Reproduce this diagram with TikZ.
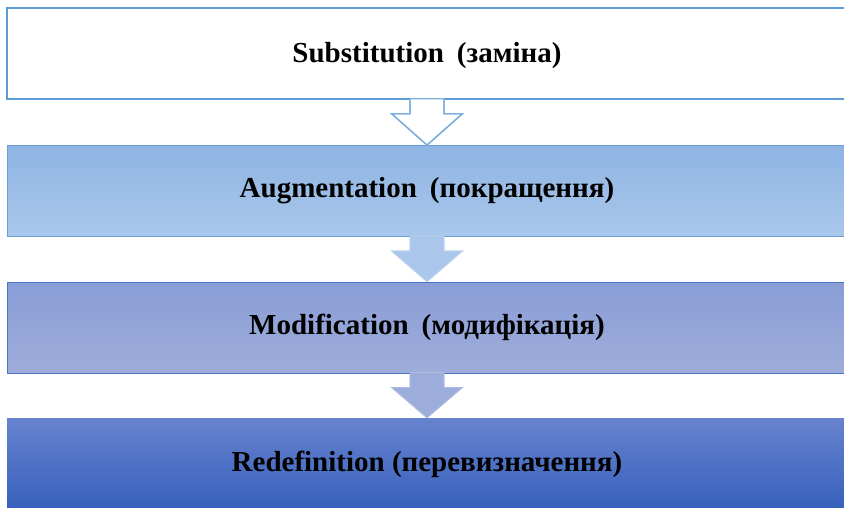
\documentclass[tikz,border=0pt]{standalone}
\usepackage{fontspec}
\setmainfont{Liberation Serif}
\usetikzlibrary{calc}
\definecolor{bordA}{HTML}{5B9BD5}
\definecolor{topB}{HTML}{8EB4E3}
\definecolor{botB}{HTML}{AAC7EB}
\definecolor{bordB}{HTML}{6C9FD8}
\definecolor{topC}{HTML}{889DD6}
\definecolor{botC}{HTML}{9FADDA}
\definecolor{bordC}{HTML}{4F74C6}
\definecolor{topD}{HTML}{6783CF}
\definecolor{midD}{HTML}{4571C5}
\definecolor{botD}{HTML}{3660BB}
\definecolor{arrA}{HTML}{7BAEDD}
\definecolor{arrBfill}{HTML}{AAC7EB}
\definecolor{arrBline}{HTML}{B9D1EE}
\definecolor{arrCfill}{HTML}{9CADDB}
\definecolor{arrCline}{HTML}{AEBBE1}
\newcommand{\blockarrow}[3]{%
  \fill[#3] ($(#1.south)+(-17,-1)$) -- ($(#1.south)+(-17,14)$) -- ($(#1.south)+(-35.5,14)$) -- (#2.north) -- ($(#1.south)+(35.5,14)$) -- ($(#1.south)+(17,14)$) -- ($(#1.south)+(17,-1)$) -- cycle;
  \draw[#3,fill=none] ($(#1.south)+(-17,0.6)$) -- ($(#1.south)+(-17,14)$) -- ($(#1.south)+(-35.5,14)$) -- (#2.north) -- ($(#1.south)+(35.5,14)$) -- ($(#1.south)+(17,14)$) -- ($(#1.south)+(17,0.6)$);}
\newcommand{\gap}{\hspace{0.45em}}
\begin{document}
\begin{tikzpicture}[x=1pt,y=-1pt,
  box/.style={rectangle, minimum width=840pt, minimum height=91pt, inner sep=0pt, anchor=center,
    font=\bfseries\fontsize{29}{34}\selectfont, text=black},
  boxA/.style={box, fill=white, draw=bordA, line width=1.3pt, text height=21pt, text depth=4pt},
  boxB/.style={box, top color=topB, bottom color=botB, draw=bordB, line width=0.8pt},
  boxC/.style={box, top color=topC, bottom color=botC, draw=bordC, line width=0.8pt},
  boxD/.style={box, shading=axis, top color=topD, middle color=midD, bottom color=botD, shading angle=0},
  arrA/.style={fill=white, draw=arrA, line width=1.3pt, line join=miter},
  arrB/.style={fill=arrBfill, draw=arrBline, line width=0.8pt},
  arrC/.style={fill=arrCfill, draw=arrCline, line width=0.8pt}]
\clip (0,0) rectangle (844,507);
\fill[white] (0,0) rectangle (844,507);
\node[boxA] (s) at (427,53.5) {Substitution\gap(заміна)};
\node[boxB] (a) at (427,191) {Augmentation\gap(покращення)};
\node[boxC] (m) at (427,327.5) {Modification\gap(модифікація)};
\node[boxD, minimum height=92pt] (r) at (427,464) {Redefinition (перевизначення)};
\blockarrow{s}{a}{arrA}
\blockarrow{a}{m}{arrB}
\blockarrow{m}{r}{arrC}
\end{tikzpicture}
\end{document}
